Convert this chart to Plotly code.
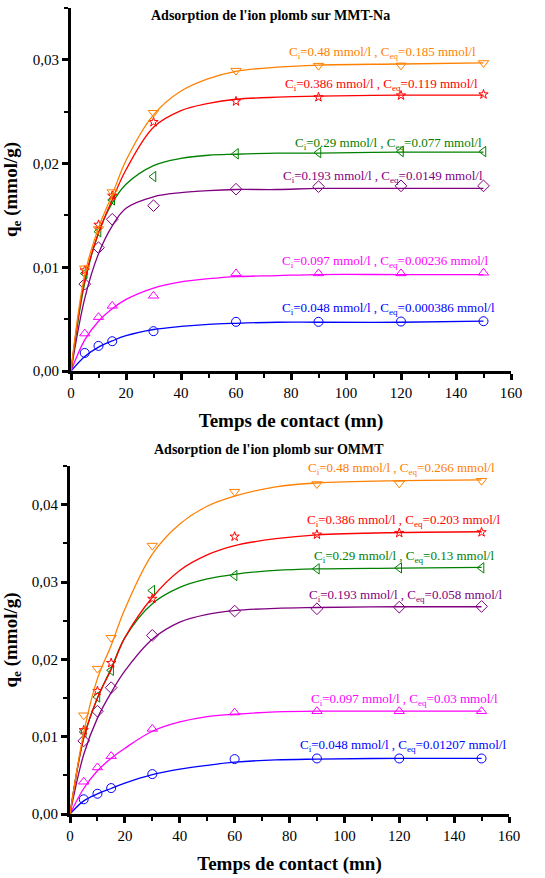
import plotly.graph_objects as go

# ---------------- data ----------------
t_exp = [5, 10, 15, 30, 60, 90, 120, 150]
t_fit = [0, 5, 10, 15, 20, 30, 40, 50, 60, 75, 90, 120, 150]

# MMT-Na (top)
mmt_q_048 = [0.00174, 0.00242, 0.00287, 0.00384, 0.00474, 0.00474, 0.00477, 0.00480]
mmt_q_097 = [0.00361, 0.00519, 0.00628, 0.00725, 0.00941, 0.00941, 0.00941, 0.00947]
mmt_q_193 = [0.00838, 0.01189, 0.01463, 0.01594, 0.01753, 0.01778, 0.01785, 0.01785]
mmt_q_290 = [0.00940, 0.01343, 0.01650, 0.01875, 0.02094, 0.02106, 0.02116, 0.02116]
mmt_q_386 = [0.00970, 0.01410, 0.01690, 0.02400, 0.02600, 0.02640, 0.02657, 0.02667]
mmt_q_480 = [0.00990, 0.01370, 0.01725, 0.02490, 0.02896, 0.02944, 0.02947, 0.02970]

mmt_fit_048 = [0, 0.0014, 0.0023, 0.0029, 0.0034, 0.0040, 0.0043, 0.0045, 0.0046, 0.0047, 0.0047, 0.0047, 0.0048]
mmt_fit_097 = [0, 0.0030, 0.0048, 0.0060, 0.0069, 0.0080, 0.0086, 0.0089, 0.0091, 0.0092, 0.0093, 0.0093, 0.0093]
mmt_fit_193 = [0, 0.0070, 0.0113, 0.0140, 0.0157, 0.0168, 0.0172, 0.0174, 0.0175, 0.0175, 0.0176, 0.0176, 0.0176]
mmt_fit_290 = [0, 0.0085, 0.0133, 0.0162, 0.0180, 0.0198, 0.0205, 0.0208, 0.0209, 0.0210, 0.0210, 0.0211, 0.0211]
mmt_fit_386 = [0, 0.0088, 0.0133, 0.0165, 0.0194, 0.0235, 0.0251, 0.0258, 0.0262, 0.0264, 0.0265, 0.0266, 0.0266]
mmt_fit_480 = [0, 0.0093, 0.0138, 0.0170, 0.0203, 0.0247, 0.0270, 0.0282, 0.0289, 0.0293, 0.0295, 0.0296, 0.0297]

# OMMT (bottom)
ommt_q_048 = [0.00190, 0.00262, 0.00335, 0.00516, 0.00710, 0.00718, 0.00718, 0.00718]
ommt_q_097 = [0.00417, 0.00602, 0.00748, 0.01101, 0.01312, 0.01329, 0.01329, 0.01329]
ommt_q_193 = [0.00946, 0.01329, 0.01634, 0.02310, 0.02624, 0.02654, 0.02675, 0.02684]
ommt_q_290 = [0.01062, 0.01514, 0.01858, 0.02890, 0.03084, 0.03170, 0.03183, 0.03183]
ommt_q_386 = [0.01084, 0.01591, 0.01953, 0.02783, 0.03587, 0.03613, 0.03634, 0.03643]
ommt_q_480 = [0.01277, 0.01880, 0.02280, 0.03471, 0.04168, 0.04267, 0.04275, 0.04310]

ommt_fit_048 = [0, 0.0017, 0.0026, 0.0033, 0.0040, 0.0051, 0.0058, 0.0063, 0.0067, 0.0070, 0.0071, 0.0072, 0.0072]
ommt_fit_097 = [0, 0.0033, 0.0056, 0.0072, 0.0085, 0.0107, 0.0119, 0.0126, 0.0129, 0.0132, 0.0133, 0.0133, 0.0133]
ommt_fit_193 = [0, 0.0077, 0.0124, 0.0157, 0.0185, 0.0226, 0.0248, 0.0258, 0.0263, 0.0266, 0.0267, 0.0268, 0.0268]
ommt_fit_290 = [0, 0.0098, 0.0150, 0.0188, 0.0228, 0.0272, 0.0293, 0.0304, 0.0310, 0.0315, 0.0317, 0.0318, 0.0319]
ommt_fit_386 = [0, 0.0098, 0.0150, 0.0187, 0.0228, 0.0280, 0.0315, 0.0335, 0.0347, 0.0356, 0.0361, 0.0364, 0.0365]
ommt_fit_480 = [0, 0.0105, 0.0175, 0.0218, 0.0265, 0.0336, 0.0375, 0.0398, 0.0411, 0.0423, 0.0428, 0.0431, 0.0432]

ci_labels = ["0.048", "0.097", "0.193", "0.29", "0.386", "0.48"]
ceq_mmt = ["0.000386", "0.00236", "0.0149", "0.077", "0.119", "0.185"]
ceq_ommt = ["0.01207", "0.03", "0.058", "0.13", "0.203", "0.266"]

titles = ["Adsorption de l'ion plomb sur MMT-Na", "Adsorption de l'ion plomb sur OMMT"]

# ---------------- styles ----------------
colors = ["#0000FF", "#FF00FF", "#800080", "#008000", "#FF0000", "#FF8000"]
symbols = ["circle-open", "triangle-up-open", "diamond-open", "triangle-left-open", "star-open", "triangle-down-open"]
sizes = [9, 9, 9, 9, 7, 9]
FONT = "Liberation Serif, Times New Roman, serif"

fig = go.Figure()

top_exp = [mmt_q_048, mmt_q_097, mmt_q_193, mmt_q_290, mmt_q_386, mmt_q_480]
top_fit = [mmt_fit_048, mmt_fit_097, mmt_fit_193, mmt_fit_290, mmt_fit_386, mmt_fit_480]
bot_exp = [ommt_q_048, ommt_q_097, ommt_q_193, ommt_q_290, ommt_q_386, ommt_q_480]
bot_fit = [ommt_fit_048, ommt_fit_097, ommt_fit_193, ommt_fit_290, ommt_fit_386, ommt_fit_480]

for panel, (exps, fits, xa, ya) in enumerate([(top_exp, top_fit, "x", "y"), (bot_exp, bot_fit, "x2", "y2")]):
    for i in range(6):
        fig.add_trace(go.Scatter(x=t_fit, y=fits[i], mode="lines", xaxis=xa, yaxis=ya,
                                 line=dict(color=colors[i], width=1.3, shape="spline", smoothing=1.0),
                                 showlegend=False, hoverinfo="skip"))
        fig.add_trace(go.Scatter(x=t_exp, y=exps[i], mode="markers", xaxis=xa, yaxis=ya,
                                 marker=dict(symbol=symbols[i], size=sizes[i], color=colors[i], line=dict(width=1)),
                                 showlegend=False, cliponaxis=False))

W, H = 545, 878

def px_x(v):
    return v / W

def px_y(v):
    return 1 - v / H

axis_common = dict(showline=True, linewidth=3, linecolor="black", mirror=False,
                   ticks="outside", ticklen=6, tickwidth=3, tickcolor="black",
                   showgrid=False, zeroline=False, automargin=False,
                   tickfont=dict(family=FONT, size=15, color="black"))

xa_common = dict(axis_common, range=[0, 160], dtick=20, tick0=0,
                 minor=dict(dtick=10, ticks="outside", ticklen=4, tickwidth=2, tickcolor="black"),
                 title=dict(text="<b>Temps de contact (mn)</b>", font=dict(family=FONT, size=19, color="black"), standoff=14))

ya_common = dict(axis_common, dtick=0.01, tick0=0, tickformat=".2f",
                 minor=dict(dtick=0.005, ticks="outside", ticklen=4, tickwidth=2, tickcolor="black"),
                 title=dict(text="<b>q<sub>e</sub> (mmol/g)</b>", font=dict(family=FONT, size=19, color="black"), standoff=12))

fig.update_layout(
    width=W, height=H,
    margin=dict(l=0, r=0, t=0, b=0, autoexpand=False),
    paper_bgcolor="white", plot_bgcolor="white",
    separators=", ",
    showlegend=False,
    xaxis=dict(xa_common, domain=[px_x(71), px_x(511)], anchor="y"),
    yaxis=dict(ya_common, domain=[px_y(371), px_y(8)], anchor="x", range=[0, 0.035]),
    xaxis2=dict(xa_common, domain=[px_x(70), px_x(509)], anchor="y2"),
    yaxis2=dict(ya_common, domain=[px_y(814), px_y(466)], anchor="x2", range=[0, 0.045]),
)

annotations = []
# panel titles
annotations.append(dict(text="<b>" + titles[0] + "</b>", x=px_x(270), y=px_y(16), xref="paper", yref="paper",
                        xanchor="center", yanchor="middle", showarrow=False,
                        font=dict(family=FONT, size=14, color="black")))
annotations.append(dict(text="<b>" + titles[1] + "</b>", x=px_x(269), y=px_y(449), xref="paper", yref="paper",
                        xanchor="center", yanchor="middle", showarrow=False,
                        font=dict(family=FONT, size=14, color="black")))

top_label_pos = [(497, 308), (490, 261), (485, 177), (484, 143), (480, 85), (478, 52)]
bot_label_pos = [(508, 745), (500, 699), (504, 595), (496, 556), (502, 520), (497, 469)]
for i in range(6):
    txt = "C<sub>i</sub>=" + ci_labels[i] + " mmol/l , C<sub>eq</sub>=" + ceq_mmt[i] + " mmol/l"
    annotations.append(dict(text=txt, x=px_x(top_label_pos[i][0]), y=px_y(top_label_pos[i][1]),
                            xref="paper", yref="paper", xanchor="right", yanchor="middle",
                            showarrow=False, font=dict(family=FONT, size=13, color=colors[i])))
    txt2 = "C<sub>i</sub>=" + ci_labels[i] + " mmol/l , C<sub>eq</sub>=" + ceq_ommt[i] + " mmol/l"
    annotations.append(dict(text=txt2, x=px_x(bot_label_pos[i][0]), y=px_y(bot_label_pos[i][1]),
                            xref="paper", yref="paper", xanchor="right", yanchor="middle",
                            showarrow=False, font=dict(family=FONT, size=13, color=colors[i])))

fig.update_layout(annotations=annotations)

fig.write_html("out.html", config={"displayModeBar": False},
               post_script="document.body.style.margin='0';document.body.style.overflow='hidden';")
